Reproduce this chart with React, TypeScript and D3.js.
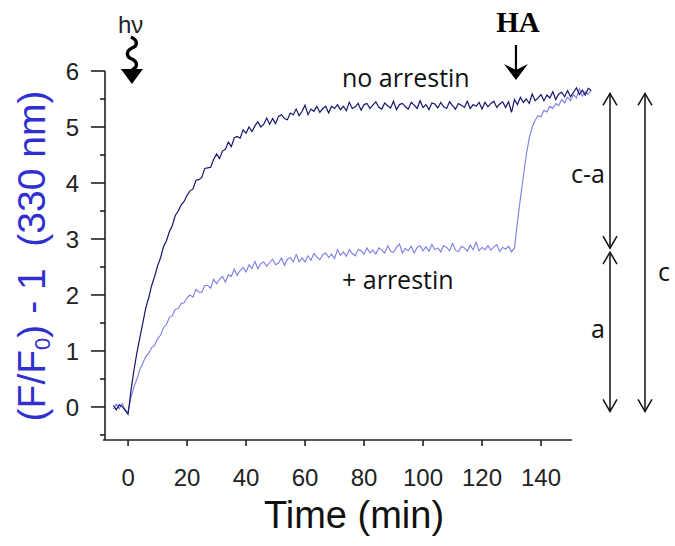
import React from 'react';
import * as d3 from 'd3';

const W = 675;
const H = 546;

// time axis of the traces: first sample (min), one sample per minute
const timeStart = -5;

// (F/F0) - 1, no arrestin (dark trace), t = -5 .. 157 min
const noArrestin = [
  0.03, -0.05, 0.04, 0.01, -0.06, -0.13,
  0.3, 0.66, 0.97, 1.24, 1.5, 1.77, 1.95, 2.17, 2.33, 2.52,
  2.66, 2.86, 2.97, 3.13, 3.24, 3.42, 3.5, 3.61, 3.67, 3.78,
  3.86, 3.89, 4.05, 4.06, 4.1, 4.26, 4.27, 4.28, 4.42, 4.52,
  4.44, 4.57, 4.6, 4.73, 4.65, 4.81, 4.83, 4.8, 4.95, 4.89,
  5.0, 4.92, 5.02, 5.09, 5.0, 5.05, 5.16, 5.05, 5.15, 5.06,
  5.19, 5.22, 5.15, 5.13, 5.25, 5.22, 5.32, 5.2, 5.28, 5.39,
  5.22, 5.32, 5.28, 5.37, 5.26, 5.33, 5.37, 5.25, 5.37, 5.33,
  5.4, 5.31, 5.37, 5.29, 5.44, 5.33, 5.36, 5.42, 5.3, 5.4,
  5.42, 5.33, 5.39, 5.45, 5.35, 5.32, 5.43, 5.38, 5.34, 5.46,
  5.31, 5.4, 5.42, 5.36, 5.32, 5.44, 5.39, 5.33, 5.47, 5.35,
  5.4, 5.31, 5.43, 5.41, 5.34, 5.44, 5.36, 5.33, 5.45, 5.38,
  5.32, 5.42, 5.39, 5.35, 5.46, 5.33, 5.4, 5.37, 5.44, 5.32,
  5.44, 5.36, 5.42, 5.46, 5.35, 5.41, 5.45, 5.35, 5.45, 5.26,
  5.49, 5.4, 5.53, 5.44, 5.5, 5.42, 5.59, 5.47, 5.52, 5.58,
  5.47, 5.57, 5.52, 5.63, 5.49, 5.59, 5.62, 5.54, 5.65, 5.54,
  5.62, 5.7, 5.58, 5.66, 5.57, 5.69, 5.65,
];

// (F/F0) - 1, + arrestin (light trace), t = -5 .. 157 min
const plusArrestin = [
  -0.04, 0.05, -0.03, 0.06, -0.05, -0.09,
  0.17, 0.36, 0.5, 0.67, 0.78, 0.9, 0.96, 1.06, 1.1, 1.22,
  1.28, 1.42, 1.47, 1.6, 1.63, 1.74, 1.76, 1.85, 1.86, 1.95,
  2.0, 1.96, 2.1, 2.05, 2.05, 2.17, 2.17, 2.12, 2.28, 2.2,
  2.28, 2.33, 2.23, 2.36, 2.33, 2.46, 2.35, 2.44, 2.49, 2.41,
  2.54, 2.47, 2.6, 2.47, 2.56, 2.59, 2.51, 2.58, 2.64, 2.54,
  2.57, 2.66, 2.53, 2.64, 2.67, 2.59, 2.72, 2.59, 2.66, 2.59,
  2.7, 2.62, 2.74, 2.68, 2.63, 2.72, 2.75, 2.67, 2.73, 2.65,
  2.81, 2.71, 2.77, 2.69, 2.81, 2.74, 2.7, 2.81, 2.79, 2.73,
  2.84, 2.75, 2.8, 2.73, 2.84, 2.8, 2.75, 2.88, 2.78, 2.76,
  2.85, 2.91, 2.75, 2.83, 2.79, 2.87, 2.75, 2.85, 2.88, 2.79,
  2.86, 2.78, 2.9, 2.81, 2.84, 2.77, 2.88, 2.85, 2.79, 2.92,
  2.8, 2.77, 2.87, 2.84, 2.78, 2.89, 2.81, 2.94, 2.79, 2.85,
  2.81, 2.88, 2.8, 2.86, 2.9, 2.78, 2.85, 2.82, 2.87, 2.77, 2.84,
  3.3, 3.72, 4.12, 4.5, 4.8, 5.0, 5.12, 5.2, 5.18, 5.3,
  5.27, 5.37, 5.33, 5.42, 5.38, 5.49, 5.43, 5.53, 5.47, 5.58,
  5.52, 5.68, 5.55, 5.63, 5.58, 5.66,
];

const xTicks = [0, 20, 40, 60, 80, 100, 120, 140];
const yTicks = [0, 1, 2, 3, 4, 5, 6];
const yMinorTicks = [-0.5, 0.5, 1.5, 2.5, 3.5, 4.5, 5.5];
const xDomain = [-8.5, 150.5];
const yDomain = [-0.59, 6];

const hvTime = 1.3; // light flash
const haTime = 131.5; // hydroxylamine addition
const levelTop = 5.6;
const levelMid = 2.8;
const levelBottom = -0.08;

const SANS = "'Liberation Sans', Arial, sans-serif";
const LABEL = "'Open Sans', 'Noto Sans', sans-serif";
const AXIS = '#222';
const DARK = '#16166e';
const LIGHT = '#7b7be8';
const BLUE = '#3030d0';

export default function App() {
  const x = d3.scaleLinear().domain(xDomain).range([103, 572]);
  const y = d3.scaleLinear().domain(yDomain).range([440, 71]);

  const line = d3
    .line<number>()
    .x((_, i) => x(timeStart + i))
    .y((d) => y(d));

  const yTop = y(6);
  const yBot = y(yDomain[0]);
  const xLeft = x(xDomain[0]);
  const xRight = x(xDomain[1]);

  // hv squiggle arrow
  const hx = x(hvTime);
  const squiggle = `M${hx - 1},37 C${hx + 6},40 ${hx + 6},46 ${hx},48 C${hx - 6},51 ${hx - 6},57 ${hx},59 C${hx + 6},62 ${hx + 6},67 ${hx},70`;
  const hvHead = `M${hx - 11},69 L${hx + 11},69 L${hx},84 Z`;

  // HA arrow
  const ax = x(haTime);
  const haHead = `M${ax},80 L${ax - 12},64 L${ax},70 L${ax + 12},64 Z`;

  const arrow1X = 610;
  const arrow2X = 645;

  const chevron = (cx: number, cy: number, dir: number) =>
    `M${cx - 7},${cy + dir * 12} L${cx},${cy} L${cx + 7},${cy + dir * 12}`;

  return (
    <svg
      width={W}
      height={H}
      viewBox={`0 0 ${W} ${H}`}
      style={{ position: 'absolute', left: 0, top: 0, background: '#fff' }}
    >
      {/* axes */}
      <g stroke={AXIS} strokeWidth={1.6} fill="none">
        <line x1={105} y1={yTop} x2={105} y2={yBot} />
        <line x1={xLeft} y1={yBot} x2={xRight} y2={yBot} />
        {yTicks.map((t) => (
          <line key={'yt' + t} x1={91} x2={105} y1={y(t)} y2={y(t)} />
        ))}
        {yMinorTicks.map((t) => (
          <line key={'ym' + t} x1={100} x2={105} y1={y(t)} y2={y(t)} />
        ))}
        {xTicks.map((t) => (
          <line key={'xt' + t} x1={x(t)} x2={x(t)} y1={yBot} y2={yBot + 6} />
        ))}
      </g>
      <g fontFamily={SANS} fontSize={24} fill={AXIS}>
        {yTicks.map((t) => (
          <text key={'yl' + t} x={79} y={y(t)} dy="0.36em" textAnchor="end">
            {t}
          </text>
        ))}
        {xTicks.map((t) => (
          <text key={'xl' + t} x={x(t)} y={486} textAnchor="middle">
            {t}
          </text>
        ))}
      </g>

      {/* axis titles */}
      <text x={354} y={528} fontFamily={SANS} fontSize={38} textAnchor="middle" fill="#111">
        Time (min)
      </text>
      <text
        transform="translate(45,256) rotate(-90)"
        fontFamily={SANS}
        fontSize={39}
        fill={BLUE}
        textAnchor="middle"
        style={{ whiteSpace: 'pre' }}
      >
        (F/F<tspan fontSize={22} dy={5}>0</tspan>
        <tspan dy={-5}>{') - 1  (330 nm)'}</tspan>
      </text>

      {/* traces */}
      <path d={line(plusArrestin) || ''} fill="none" stroke={LIGHT} strokeWidth={1.1} />
      <path d={line(noArrestin) || ''} fill="none" stroke={DARK} strokeWidth={1.2} />

      {/* trace labels */}
      <g fontFamily={LABEL} fontSize={25} fill="#111">
        <text x={342} y={87}>no arrestin</text>
        <text x={342} y={289}>+ arrestin</text>
        <text x={605} y={183} textAnchor="end">c-a</text>
        <text x={591} y={338}>a</text>
        <text x={658} y={281}>c</text>
      </g>

      {/* hv */}
      <text x={118} y={33} fontFamily={SANS} fontSize={24} fill="#222">hν</text>
      <path d={squiggle} fill="none" stroke="#000" strokeWidth={3.4} />
      <path d={hvHead} fill="#000" />

      {/* HA */}
      <text
        x={ax + 2}
        y={32}
        fontFamily="'Liberation Serif', 'Times New Roman', serif"
        fontWeight="bold"
        fontSize={29}
        textAnchor="middle"
        fill="#000"
      >
        HA
      </text>
      <line x1={ax} x2={ax} y1={45} y2={74} stroke="#000" strokeWidth={2.2} />
      <path d={haHead} fill="#000" />

      {/* difference arrows */}
      <g stroke="#111" strokeWidth={1.5} fill="none">
        <line x1={arrow1X} x2={arrow1X} y1={y(levelTop)} y2={y(levelMid) - 2} />
        <path d={chevron(arrow1X, y(levelTop), 1)} />
        <path d={chevron(arrow1X, y(levelMid) - 2, -1)} />
        <line x1={arrow1X} x2={arrow1X} y1={y(levelMid) + 2} y2={y(levelBottom)} />
        <path d={chevron(arrow1X, y(levelMid) + 2, 1)} />
        <path d={chevron(arrow1X, y(levelBottom), -1)} />
        <line x1={arrow2X} x2={arrow2X} y1={y(levelTop)} y2={y(levelBottom)} />
        <path d={chevron(arrow2X, y(levelTop), 1)} />
        <path d={chevron(arrow2X, y(levelBottom), -1)} />
      </g>
    </svg>
  );
}
